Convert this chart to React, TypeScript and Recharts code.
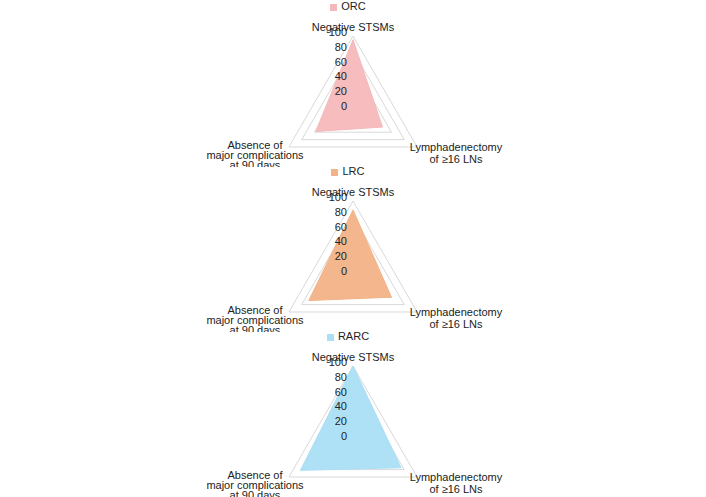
import { Legend, PolarAngleAxis, PolarGrid, PolarRadiusAxis, Radar, RadarChart } from "recharts";

const axes = ["Negative STSMs", "Lymphadenectomy of ≥16 LNs", "Absence of major complications at 90 days"];
const orcValues = [95, 46, 58];
const lrcValues = [88, 60, 69];
const rarcValues = [100, 75, 82];
const ticks = [0, 20, 40, 60, 80, 100];

const groups = [
  { name: "ORC", values: orcValues, color: "#f5b8ba" },
  { name: "LRC", values: lrcValues, color: "#f3b387" },
  { name: "RARC", values: rarcValues, color: "#abdff5" },
];

const OUTER = 74;
const FONT = "Liberation Sans, Arial";

const AngleTick = (props: any) => {
  const { x, y, payload } = props;
  const i = payload.index;
  const style = { fontSize: 11, fill: "#222", fontFamily: FONT };
  if (i === 0) {
    return <text x={x} y={y + 3} textAnchor="middle" style={style}>Negative STSMs</text>;
  }
  if (i === 1) {
    return (
      <text x={x} y={y} style={style}>
        <tspan x={x + 32} dy={0} textAnchor="middle">Lymphadenectomy</tspan>
        <tspan x={x + 32} dy={12} textAnchor="middle">of ≥16 LNs</tspan>
      </text>
    );
  }
  return (
    <text x={x} y={y} style={style}>
      <tspan x={x - 27} dy={-2} textAnchor="middle">Absence of</tspan>
      <tspan x={x - 27} dy={10} textAnchor="middle">major complications</tspan>
      <tspan x={x - 27} dy={10} textAnchor="middle">at 90 days</tspan>
    </text>
  );
};

export default function App() {
  return (
    <div style={{ position: "absolute", left: 0, top: 0, width: 706, height: 497, background: "#fff" }}>
      {groups.map((g, gi) => {
        const data = axes.map((a, i) => ({ axis: a, value: g.values[i] }));
        return (
          <div key={g.name} style={{ position: "absolute", left: 0, top: gi * 165, width: 706, height: 167 }}>
            <RadarChart
              width={706}
              height={167}
              data={data}
              cx={353}
              cy={110}
              outerRadius={OUTER}
              startAngle={90}
              endAngle={-270}
              style={{ overflow: "visible" }}
            >
              <PolarGrid
                gridType="polygon"
                radialLines={false}
                stroke="#d9d9d9"
                polarRadius={ticks.slice(1).map((t) => (t / 100) * OUTER)}
              />
              <PolarAngleAxis dataKey="axis" tick={<AngleTick />} tickLine={false} axisLine={false} />
              <PolarRadiusAxis
                angle={90}
                domain={[0, 100]}
                ticks={ticks}
                axisLine={false}
                tickLine={false}
                tick={{ fontSize: 11, fill: "#222", fontFamily: FONT, textAnchor: "end", dx: -6 }}
              />
              <Radar name={g.name} dataKey="value" stroke={g.color} fill={g.color} fillOpacity={0.95} isAnimationActive={false} />
              <Legend
                verticalAlign="top"
                iconType="square"
                iconSize={7}
                formatter={(v) => <span style={{ color: "#222" }}>{v}</span>}
                wrapperStyle={{ top: 0, fontSize: 11, fontFamily: FONT }}
              />
            </RadarChart>
          </div>
        );
      })}
    </div>
  );
}
